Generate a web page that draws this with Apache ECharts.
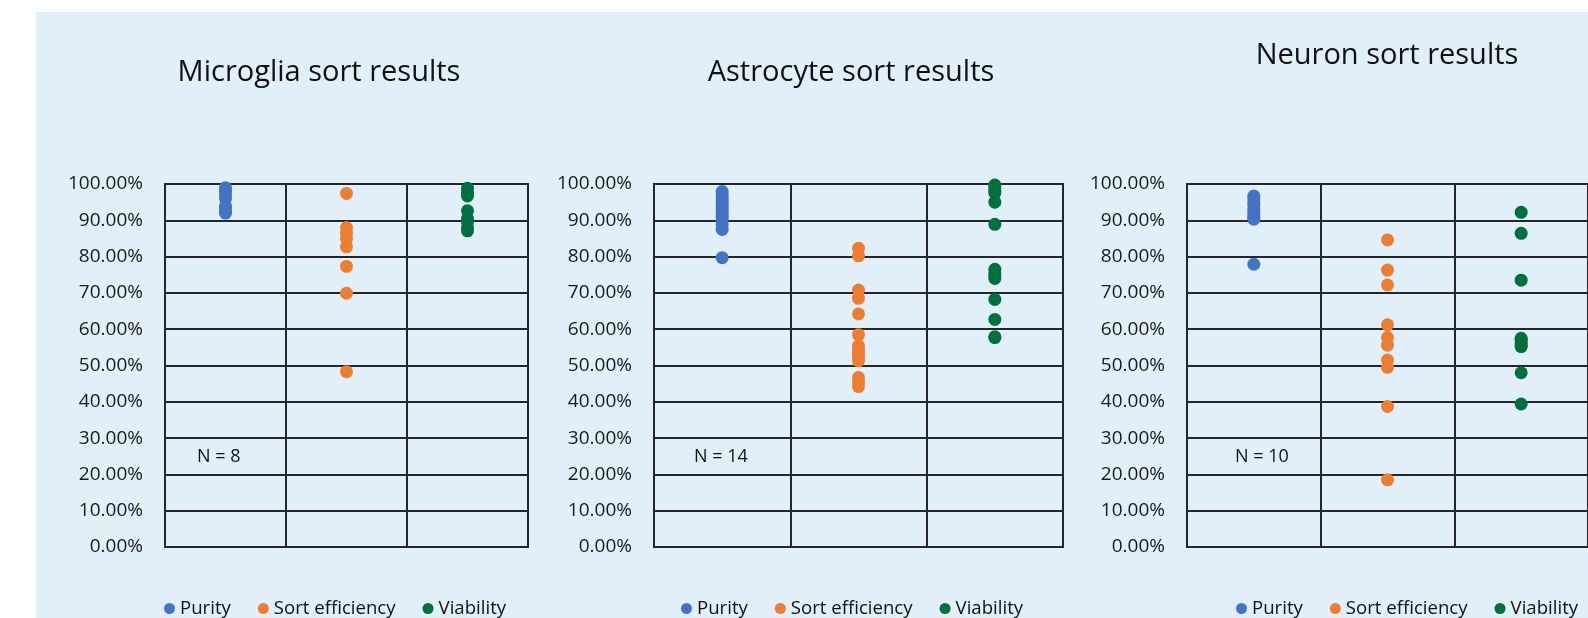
<!DOCTYPE html>
<html lang="en">

<head>
    <meta charset="UTF-8">
    <title>sort results</title>
    <style>
        html, body { margin: 0; padding: 0; background: #fff; }
        #chartView { width: 1588px; height: 618px; }
    </style>
</head>

<body>
    <div id="chartView"></div>
</body>

<script src="https://cdn.jsdelivr.net/npm/echarts@6.0.0/dist/echarts.min.js"></script>
<script>
    // data, in percent
    const categories = ['Purity', 'Sort efficiency', 'Viability'];
    const panelTitles = ['Microglia sort results', 'Astrocyte sort results', 'Neuron sort results'];
    const panelN = ['N = 8', 'N = 14', 'N = 10'];
    const yTicks = [0, 10, 20, 30, 40, 50, 60, 70, 80, 90, 100];

    const microgliaPurity = [99.0, 98.0, 97.0, 96.0, 94.0, 93.5, 92.5, 92.0];
    const microgliaSort = [97.4, 88.0, 86.5, 85.0, 82.7, 77.3, 69.9, 48.3];
    const microgliaViability = [98.8, 97.5, 96.7, 92.6, 90.5, 89.5, 88.0, 87.1];

    const astroPurity = [97.9, 97.0, 96.0, 95.2, 94.5, 93.8, 93.0, 92.3, 91.5, 90.8, 90.0, 88.8, 87.5, 79.7];
    const astroSort = [82.3, 80.2, 70.8, 68.5, 64.2, 58.5, 55.4, 54.3, 53.4, 52.3, 51.3, 46.7, 45.5, 44.2];
    const astroViability = [99.7, 99.0, 98.2, 97.5, 95.0, 88.9, 76.5, 75.5, 74.8, 74.0, 68.2, 62.7, 57.9, 57.7];

    const neuronPurity = [96.7, 96.0, 95.1, 94.2, 93.0, 92.3, 91.5, 90.8, 90.3, 77.9];
    const neuronSort = [84.6, 76.3, 72.2, 61.2, 57.7, 55.6, 51.5, 49.5, 38.7, 18.5];
    const neuronViability = [92.2, 86.4, 73.5, 57.5, 57.0, 56.2, 55.5, 55.2, 48.0, 39.4];

    const panelData = [
        [microgliaPurity, microgliaSort, microgliaViability],
        [astroPurity, astroSort, astroViability],
        [neuronPurity, neuronSort, neuronViability]
    ];

    const colors = ['#4472c4', '#ed7d31', '#00703f'];
    const lineColor = '#262626';
    const fontName = '"Open Sans", "Noto Sans", sans-serif';

    // layout of the three panels (page pixels)
    const gridLeft = [165, 654, 1187];
    const gridWidth = [363, 409, 433];
    const titleX = [319, 851, 1387];
    const titleTop = [55, 55, 38];
    const legendLeft = [164, 681, 1236];
    const nTextX = [197, 694, 1235];

    function getChartOption() {
        let grids = [], xAxes = [], yAxes = [], titles = [], legends = [], series = [], texts = [];

        texts.push({ type: 'rect', z: -10, shape: { x: 36, y: 12, width: 1552, height: 606 }, style: { fill: '#e1eff9' } });

        for (let i = 0; i < 3; i++) {
            grids.push({
                left: gridLeft[i], top: 184, width: gridWidth[i], height: 363,
                show: true, borderColor: lineColor, borderWidth: 2, backgroundColor: 'transparent'
            });
            xAxes.push({
                type: 'category', gridIndex: i, data: categories, boundaryGap: true,
                axisLine: { show: false }, axisTick: { show: false }, axisLabel: { show: false },
                splitLine: { show: true, interval: 0, lineStyle: { color: lineColor, width: 2 } }
            });
            yAxes.push({
                type: 'value', gridIndex: i, min: yTicks[0], max: yTicks[yTicks.length - 1], interval: 10,
                axisLine: { show: false }, axisTick: { show: false },
                axisLabel: {
                    margin: 22, fontSize: 19, color: '#1a1a1a', fontFamily: fontName,
                    formatter: function (v) { return v.toFixed(2) + '%'; }
                },
                splitLine: { show: true, lineStyle: { color: lineColor, width: 2 } }
            });
            titles.push({
                text: panelTitles[i], left: titleX[i], top: titleTop[i], textAlign: 'center', padding: 0,
                textStyle: { fontSize: 29, fontWeight: 'normal', color: '#111', fontFamily: fontName, lineHeight: 36 }
            });
            legends.push({
                data: categories, left: legendLeft[i], top: 599, padding: 0,
                icon: 'circle', itemWidth: 11, itemHeight: 11, itemGap: 27,
                textStyle: { fontSize: 18.6, color: '#111', fontFamily: fontName }
            });
            texts.push({
                type: 'text', left: nTextX[i], top: 448,
                style: { text: panelN[i], fontSize: 18, fill: '#111', fontFamily: fontName }
            });
            for (let j = 0; j < 3; j++) {
                series.push({
                    name: categories[j], type: 'scatter', xAxisIndex: i, yAxisIndex: i,
                    symbolSize: 13, itemStyle: { color: colors[j], opacity: 1 },
                    data: panelData[i][j].map(function (v) { return [j, v]; })
                });
            }
        }

        return {
            backgroundColor: '#ffffff',
            animation: false,
            color: colors,
            title: titles,
            legend: legends,
            grid: grids,
            xAxis: xAxes,
            yAxis: yAxes,
            graphic: texts,
            series: series
        };
    }

    function initChartView() {
        let myChart = echarts.init(document.getElementById('chartView'));
        myChart.setOption(getChartOption());
        window.onresize = function () {
            myChart.resize();
        };
    }

    initChartView();
</script>

</html>
